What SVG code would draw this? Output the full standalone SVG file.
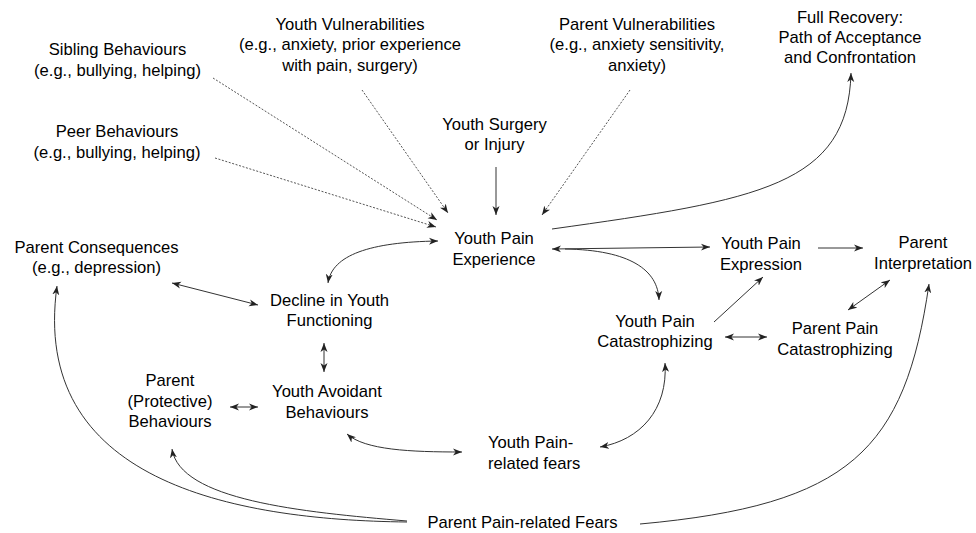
<svg xmlns="http://www.w3.org/2000/svg" width="976" height="533" viewBox="0 0 976 533">
  <style>
    text { font-family: "Liberation Sans", Arial, sans-serif; font-size: 16.6px; fill: #000; }
    .mid { text-anchor: middle; }
    .link { fill: none; stroke: #333; stroke-width: 1; }
    .dot { fill: none; stroke: #555; stroke-width: 1; stroke-dasharray: 2 1.6; }
    .one { marker-end: url(#head); }
    .two { marker-start: url(#head); marker-end: url(#head); }
  </style>
  <defs>
    <marker id="head" markerUnits="userSpaceOnUse" markerWidth="10" markerHeight="8" refX="9" refY="3.5" orient="auto-start-reverse" viewBox="0 0 10 7">
      <path d="M0,0 L9,3.5 L0,7 L2.6,3.5 Z" fill="#222"/>
    </marker>
  </defs>

  <rect width="976" height="533" fill="#fff"/>

  <!-- connectors -->
  <g id="connectors">
    <!-- influences feeding the pain experience -->
    <path class="dot one" d="M213,78 L437,220"/>
    <path class="dot one" d="M215,158 L436,227"/>
    <path class="dot one" d="M362,90 L448,213"/>
    <path class="dot one" d="M630,90 L542,215"/>
    <path class="link one" d="M496,167 L496,215"/>
    <!-- recovery path -->
    <path class="link one" d="M552,229 C760,200 848,185 851,73"/>
    <!-- right-hand cluster -->
    <path class="link two" d="M552,249 L710,247"/>
    <path class="link one" d="M565,249 C630,250 658,270 659,300"/>
    <path class="link one" d="M818,248 L863,248"/>
    <path class="link one" d="M714,322 L763,277"/>
    <path class="link two" d="M725,337 L767,337"/>
    <path class="link two" d="M848,310 L890,280"/>
    <path class="link two" d="M665,363 C668,410 640,440 600,447"/>
    <!-- left-hand cluster -->
    <path class="link two" d="M438,241 C370,242 332,255 328,283"/>
    <path class="link two" d="M172,283 L258,305"/>
    <path class="link two" d="M324,343 L324,372"/>
    <path class="link two" d="M230,407 L258,407"/>
    <path class="link two" d="M347,434 C365,450 410,452 462,452"/>
    <!-- parent pain-related fears -->
    <path class="link one" d="M407,522 C230,520 30,480 57,286"/>
    <path class="link one" d="M407,521 C300,512 180,500 172,449"/>
    <path class="link one" d="M640,524 C850,505 905,450 929,284"/>
  </g>

  <g id="sibling-behaviours">
    <text class="mid" x="117.5" y="55">Sibling Behaviours<tspan x="117.5" dy="20.5">(e.g., bullying, helping)</tspan></text>
  </g>
  <g id="peer-behaviours">
    <text class="mid" x="117" y="137">Peer Behaviours<tspan x="117" dy="20.5">(e.g., bullying, helping)</tspan></text>
  </g>
  <g id="youth-vulnerabilities">
    <text class="mid" x="350" y="29.5">Youth Vulnerabilities<tspan x="350" dy="20.5">(e.g., anxiety, prior experience</tspan><tspan x="350" dy="20.5">with pain, surgery)</tspan></text>
  </g>
  <g id="parent-vulnerabilities">
    <text class="mid" x="637" y="29.5">Parent Vulnerabilities<tspan x="637" dy="20.5">(e.g., anxiety sensitivity,</tspan><tspan x="637" dy="20.5">anxiety)</tspan></text>
  </g>
  <g id="full-recovery">
    <text class="mid" x="850" y="23">Full Recovery:<tspan x="850" dy="20">Path of Acceptance</tspan><tspan x="850" dy="20">and Confrontation</tspan></text>
  </g>
  <g id="youth-surgery">
    <text class="mid" x="494.5" y="129.5">Youth Surgery<tspan x="494.5" dy="20.5">or Injury</tspan></text>
  </g>
  <g id="youth-pain-experience">
    <text class="mid" x="494" y="244">Youth Pain<tspan x="494" dy="20.5">Experience</tspan></text>
  </g>
  <g id="parent-consequences">
    <text class="mid" x="96.5" y="252.5">Parent Consequences<tspan x="96.5" dy="20.5">(e.g., depression)</tspan></text>
  </g>
  <g id="decline-functioning">
    <text class="mid" x="329.5" y="305.5">Decline in Youth<tspan x="329.5" dy="20.5">Functioning</tspan></text>
  </g>
  <g id="youth-avoidant">
    <text class="mid" x="327" y="397">Youth Avoidant<tspan x="327" dy="20.5">Behaviours</tspan></text>
  </g>
  <g id="parent-protective">
    <text class="mid" x="170" y="386">Parent<tspan x="170" dy="20.5">(Protective)</tspan><tspan x="170" dy="20.5">Behaviours</tspan></text>
  </g>
  <g id="youth-pain-fears">
    <text x="488" y="448">Youth Pain-<tspan x="488" dy="20.5">related fears</tspan></text>
  </g>
  <g id="parent-pain-fears">
    <text class="mid" x="522.5" y="528">Parent Pain-related Fears</text>
  </g>
  <g id="youth-pain-expression">
    <text class="mid" x="761" y="249">Youth Pain<tspan x="761" dy="20.5">Expression</tspan></text>
  </g>
  <g id="parent-interpretation">
    <text class="mid" x="923" y="248">Parent<tspan x="923" dy="20.5">Interpretation</tspan></text>
  </g>
  <g id="youth-pain-catastrophizing">
    <text class="mid" x="655" y="326.5">Youth Pain<tspan x="655" dy="20.5">Catastrophizing</tspan></text>
  </g>
  <g id="parent-pain-catastrophizing">
    <text class="mid" x="835" y="334">Parent Pain<tspan x="835" dy="20.5">Catastrophizing</tspan></text>
  </g>
</svg>
